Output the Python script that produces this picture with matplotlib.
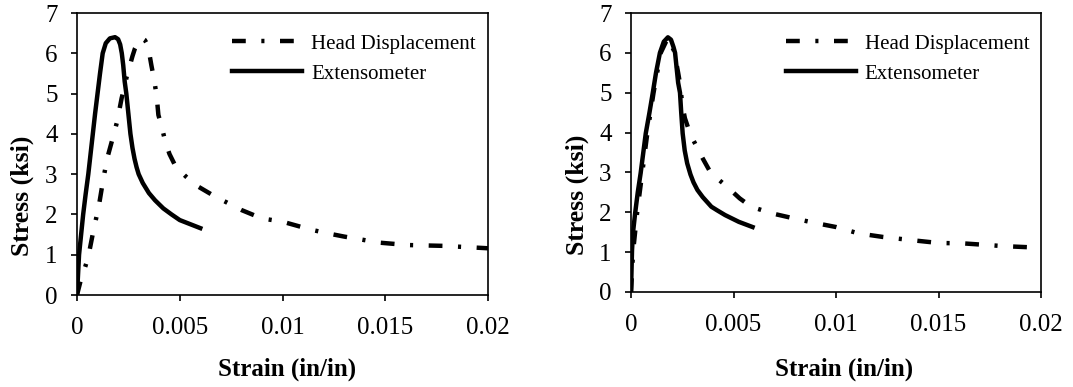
import matplotlib
matplotlib.use("Agg")
import matplotlib.pyplot as plt

# ---------------- data ----------------
# Left panel
ext1_x = [0, 0.00005, 0.0001, 0.0002, 0.0003, 0.00042, 0.00055, 0.00066, 0.00077,
          0.00088, 0.001, 0.00112, 0.00125, 0.0014, 0.0016, 0.00185, 0.002, 0.0021,
          0.00218, 0.00225, 0.00232, 0.0024, 0.0025, 0.0026, 0.0027, 0.0028, 0.0029,
          0.003, 0.0032, 0.0035, 0.0038, 0.0042, 0.0046, 0.005, 0.0055, 0.006]
ext1_y = [0, 0.5, 1.0, 1.5, 2.0, 2.5, 3.0, 3.5, 4.0,
          4.5, 5.0, 5.5, 6.0, 6.25, 6.37, 6.4, 6.35, 6.22,
          6.0, 5.7, 5.3, 5.0, 4.5, 4.0, 3.65, 3.38, 3.17,
          3.0, 2.78, 2.53, 2.35, 2.15, 2.0, 1.86, 1.76, 1.66]

head1_x = [0, 0.0002, 0.0004, 0.00055, 0.0008, 0.00106, 0.0013, 0.0015, 0.00172,
           0.00195, 0.00217, 0.0023, 0.00242, 0.00258, 0.0027, 0.00282, 0.003, 0.00315,
           0.0033, 0.00342, 0.0035, 0.00362, 0.00376, 0.00388, 0.00396, 0.00412, 0.0043,
           0.0045, 0.0048, 0.0053, 0.0058, 0.0063, 0.0068, 0.0072, 0.008, 0.009, 0.01,
           0.0107, 0.0114, 0.0122, 0.013, 0.0138, 0.0147, 0.0161, 0.0178, 0.02]
head1_y = [0, 0.4, 0.7, 0.95, 1.6, 2.2, 2.94, 3.45, 3.86,
           4.3, 4.88, 5.15, 5.42, 5.71, 5.93, 6.12, 6.3, 6.38,
           6.33, 6.22, 6.05, 5.7, 5.33, 4.92, 4.47, 4.18, 3.8,
           3.5, 3.19, 2.94, 2.72, 2.57, 2.42, 2.32, 2.11, 1.9, 1.82,
           1.72, 1.62, 1.53, 1.45, 1.38, 1.30, 1.24, 1.22, 1.16]

# Right panel
ext2_x = [0, 0.00005, 0.0001, 0.0002, 0.00033, 0.00047, 0.0006, 0.00072, 0.0009,
          0.00106, 0.00122, 0.00141, 0.0016, 0.0018, 0.00195, 0.00207, 0.00215,
          0.00223, 0.0023, 0.00239, 0.00245, 0.00252, 0.00262, 0.00274, 0.0029,
          0.00305, 0.00324, 0.0035, 0.00392, 0.0042, 0.00459, 0.00526, 0.00593]
ext2_y = [0, 1.05, 1.5, 1.97, 2.5, 2.98, 3.5, 3.98, 4.5,
          4.99, 5.5, 6.0, 6.28, 6.39, 6.33, 6.15, 6.0,
          5.6, 5.25, 5.0, 4.5, 3.98, 3.55, 3.23, 2.95,
          2.75, 2.56, 2.38, 2.14, 2.05, 1.93, 1.76, 1.63]

head2_x = [0, 0.0001, 0.0003, 0.00055, 0.0008, 0.0011, 0.00145, 0.0018, 0.0021,
           0.0023, 0.0024, 0.0025, 0.00263, 0.0028, 0.003, 0.00312, 0.0035, 0.0039,
           0.0046, 0.0053, 0.0057, 0.0061, 0.0069, 0.008, 0.009, 0.01, 0.0111,
           0.0123, 0.0137, 0.015, 0.0162, 0.0182, 0.02]
head2_y = [0, 1.0, 2.0, 3.0, 4.0, 5.0, 6.0, 6.38, 6.05,
           5.5, 5.2, 4.7, 4.36, 4.1, 3.85, 3.73, 3.35, 2.98,
           2.68, 2.35, 2.2, 2.1, 1.97, 1.84, 1.73, 1.63, 1.47,
           1.38, 1.30, 1.23, 1.22, 1.15, 1.11]

labels = ["Head Displacement", "Extensometer"]
x_ticks = [0, 0.005, 0.01, 0.015, 0.02]
x_ticklabels = ["0", "0.005", "0.01", "0.015", "0.02"]
y_ticks = [0, 1, 2, 3, 4, 5, 6, 7]
x_label = "Strain (in/in)"
y_label = "Stress (ksi)"

# ---------------- style ----------------
plt.rcParams["font.family"] = ["Liberation Serif", "DejaVu Serif"]

fig = plt.figure(figsize=(10.73, 3.87), dpi=100)
W, H = 1073.0, 387.0
ax1 = fig.add_axes([77 / W, 1 - 295 / H, 411 / W, 282 / H])
ax2 = fig.add_axes([631 / W, 1 - 292 / H, 410 / W, 279 / H])

dash = [3.1, 3.5, 0.7, 3.5]

panels = [
    (ax1, head1_x, head1_y, ext1_x, ext1_y, (-0.105, 0.351), (0.511, -0.222)),
    (ax2, head2_x, head2_y, ext2_x, ext2_y, (-0.102, 0.35), (0.52, -0.236)),
]

for ax, hx, hy, ex, ey, ylc, xlc in panels:
    ax.plot(hx, hy, color="black", lw=3.2, dashes=dash, label=labels[0])
    ax.plot(ex, ey, color="black", lw=3.2, label=labels[1])
    ax.set_xlim(0, 0.02)
    ax.set_ylim(0, 7)
    ax.set_xticks(x_ticks)
    ax.set_xticklabels(x_ticklabels)
    ax.set_yticks(y_ticks)
    for s in ax.spines.values():
        s.set_linewidth(1.2)
        s.set_color("black")
    ax.tick_params(direction="out", length=4.5, width=1.2, labelsize=18,
                   colors="black")
    ax.tick_params(axis="x", pad=11.5)
    ax.tick_params(axis="y", pad=9.5)
    ax.set_ylabel(y_label, fontsize=18.5, fontweight="bold")
    ax.set_xlabel(x_label, fontsize=18, fontweight="bold")
    ax.yaxis.set_label_coords(*ylc)
    ax.xaxis.set_label_coords(*xlc)
    ax.legend(loc="upper left", bbox_to_anchor=(0.377, 0.925), frameon=False,
              fontsize=15, handlelength=3.36, handletextpad=0.43,
              labelspacing=0.5, borderpad=0, borderaxespad=0)

fig.savefig("out.png", dpi=100)
